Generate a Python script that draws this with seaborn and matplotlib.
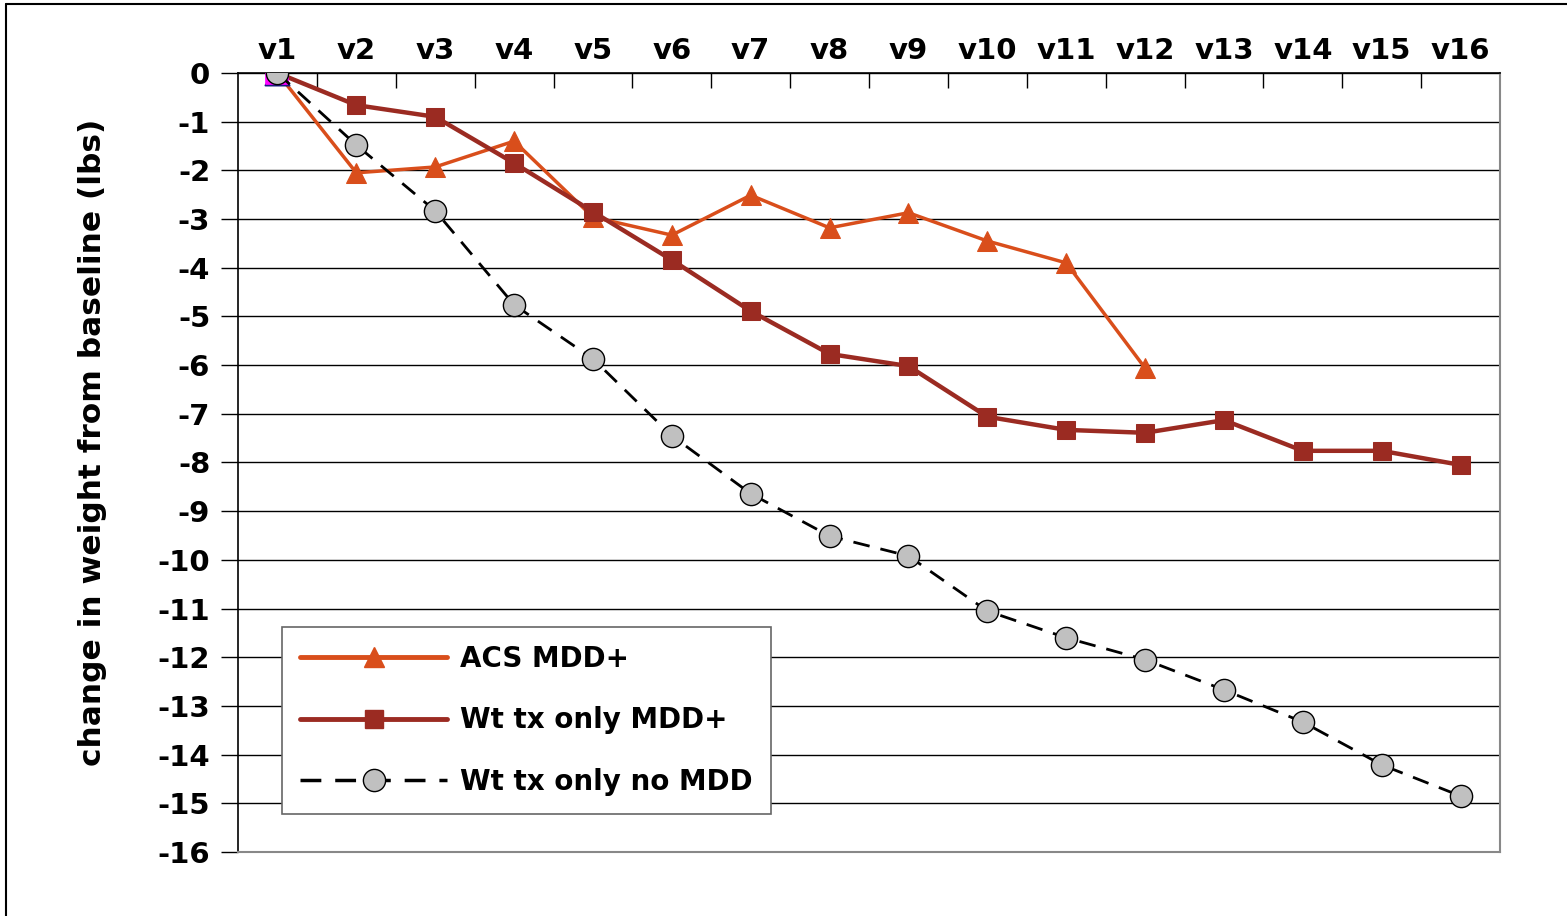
import numpy as np
import pandas as pd
import matplotlib
matplotlib.use("Agg")
import matplotlib.pyplot as plt
from matplotlib.lines import Line2D
import seaborn as sns

visits = ["v1", "v2", "v3", "v4", "v5", "v6", "v7", "v8",
          "v9", "v10", "v11", "v12", "v13", "v14", "v15", "v16"]
acs_mdd = [0, -2.05, -1.93, -1.40, -2.96, -3.33, -2.51, -3.18,
           -2.87, -3.45, -3.90, -6.06]
wt_mdd = [0, -0.66, -0.90, -1.85, -2.85, -3.84, -4.89, -5.77,
          -6.02, -7.06, -7.33, -7.39, -7.13, -7.76, -7.76, -8.05]
wt_nomdd = [0, -1.48, -2.83, -4.76, -5.87, -7.45, -8.64, -9.51,
            -9.92, -11.05, -11.60, -12.05, -12.67, -13.33, -14.21, -14.85]
series_names = ["ACS MDD+", "Wt tx only MDD+", "Wt tx only no MDD"]
y_ticks = list(range(0, -17, -1))

sns.set_theme(style="white")
plt.rcParams["font.family"] = ["DejaVu Sans"]
plt.rcParams["font.weight"] = "bold"
plt.rcParams["text.color"] = "black"
plt.rcParams["axes.labelcolor"] = "black"
plt.rcParams["xtick.color"] = "black"
plt.rcParams["ytick.color"] = "black"

fig = plt.figure(figsize=(15.67, 9.16), dpi=100)
ax = fig.add_axes([238 / 1567, 1 - 852 / 916, 1262 / 1567, 779 / 916])

pos = {v: i for i, v in enumerate(visits)}
df_acs = pd.DataFrame({"x": [pos[v] for v in visits[:len(acs_mdd)]], "y": acs_mdd})
df_wt = pd.DataFrame({"x": [pos[v] for v in visits], "y": wt_mdd})
df_no = pd.DataFrame({"x": [pos[v] for v in visits], "y": wt_nomdd})

c_acs = "#D94E1B"
c_wt = "#9B2B22"

sns.lineplot(data=df_acs, x="x", y="y", ax=ax, color=c_acs, lw=2.5,
             marker="^", markersize=15, markeredgecolor=c_acs,
             markevery=list(range(1, len(acs_mdd))), zorder=4)
sns.lineplot(data=df_wt, x="x", y="y", ax=ax, color=c_wt, lw=3.2,
             marker="s", markersize=13, markeredgecolor=c_wt,
             markevery=list(range(1, len(wt_mdd))), zorder=5)
# first-point markers (coloured artefacts in the original)
sns.scatterplot(x=[pos["v1"]], y=[acs_mdd[0]], ax=ax, marker="^", s=300,
                color="#1A1A80", edgecolor="#1A1A80", zorder=6)
sns.scatterplot(x=[pos["v1"]], y=[wt_mdd[0]], ax=ax, marker="s", s=230,
                color="#FF00FF", edgecolor="#FF00FF", zorder=7)
sns.lineplot(data=df_no, x="x", y="y", ax=ax, color="black", lw=2,
             linestyle=(0, (6, 4)), marker="o", markersize=16,
             markerfacecolor="#C0C0C0", markeredgecolor="black",
             markeredgewidth=1, zorder=8)

ax.set_xlim(-0.5, len(visits) - 0.5)
ax.set_ylim(-16, 0)
ax.set_yticks(y_ticks)
ax.set_yticklabels([str(t) for t in y_ticks], fontsize=21, fontweight="bold")
ax.set_xticks(range(len(visits)))
ax.set_xticklabels(visits, fontsize=21, fontweight="bold")
ax.set_xticks(np.arange(0.5, len(visits) - 0.5, 1), minor=True)
ax.xaxis.tick_top()
ax.tick_params(axis="x", which="major", length=0, pad=6)
ax.tick_params(axis="x", which="minor", direction="in", length=11,
               width=1, color="black", top=True, bottom=False)
ax.tick_params(axis="y", which="major", direction="out", length=12,
               width=1, color="black", left=True, pad=8)
ax.grid(axis="y", color="black", lw=1)
ax.grid(axis="x", visible=False)
ax.set_axisbelow(True)
ax.set_xlabel("")
ax.set_ylabel("change in weight from baseline (lbs)", fontsize=22.5,
              fontweight="bold")
ax.yaxis.set_label_coords(-0.104, 0.526)

for s in ["left", "top"]:
    ax.spines[s].set_color("black")
    ax.spines[s].set_linewidth(1.2)
for s in ["right", "bottom"]:
    ax.spines[s].set_color("#888888")
    ax.spines[s].set_linewidth(1.5)

handles = [
    Line2D([], [], color=c_acs, lw=3.5, marker="^", markersize=15,
           markeredgecolor=c_acs),
    Line2D([], [], color=c_wt, lw=3.5, marker="s", markersize=13,
           markeredgecolor=c_wt),
    Line2D([], [], color="black", lw=2.5, linestyle=(0, (6, 4)), marker="o",
           markersize=16, markerfacecolor="#C0C0C0", markeredgecolor="black",
           markeredgewidth=1),
]
leg = ax.legend(handles, series_names, loc="lower left",
                bbox_to_anchor=(0.035, 0.049), borderaxespad=0,
                prop={"size": 20, "weight": "bold"},
                handlelength=5.3, handletextpad=0.45, labelspacing=1.2,
                borderpad=0.65, frameon=True, fancybox=False, framealpha=1,
                edgecolor="#666666")
leg.get_frame().set_linewidth(1.2)
leg.set_zorder(20)

fig.add_artist(Line2D([6 / 1567, 6 / 1567], [0, 1 - 4 / 916], color="black",
                      lw=1.5, transform=fig.transFigure))
fig.add_artist(Line2D([6 / 1567, 1], [1 - 4 / 916, 1 - 4 / 916], color="black",
                      lw=1.5, transform=fig.transFigure))

fig.savefig("out.png", dpi=100)
